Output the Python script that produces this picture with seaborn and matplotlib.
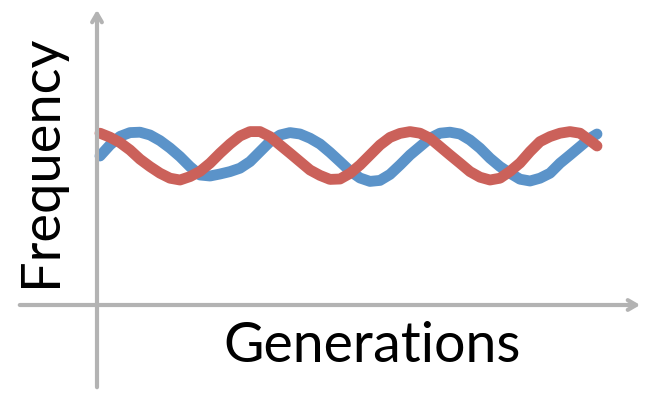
import pandas as pd
import numpy as np
import matplotlib.pyplot as plt
import seaborn as sns

# values (generation, frequency)
gens = list(range(50)) + [49.7]
blue_freq = [0.745, 0.800, 0.843, 0.862, 0.864, 0.850, 0.822, 0.785, 0.742, 0.692,
             0.650, 0.645, 0.655, 0.667, 0.684, 0.717, 0.767, 0.817, 0.850, 0.862,
             0.855, 0.834, 0.805, 0.763, 0.717, 0.670, 0.635, 0.618, 0.623, 0.653,
             0.700, 0.750, 0.792, 0.834, 0.859, 0.864, 0.855, 0.825, 0.784, 0.734,
             0.692, 0.659, 0.629, 0.620, 0.634, 0.659, 0.709, 0.750, 0.792, 0.834, 0.855]
red_freq = [0.859, 0.839, 0.812, 0.775, 0.729, 0.692, 0.659, 0.634, 0.625, 0.642,
            0.668, 0.709, 0.759, 0.805, 0.845, 0.867, 0.867, 0.842, 0.800, 0.759,
            0.717, 0.675, 0.648, 0.628, 0.630, 0.658, 0.700, 0.750, 0.800, 0.838,
            0.858, 0.867, 0.859, 0.834, 0.792, 0.750, 0.709, 0.667, 0.639, 0.625,
            0.634, 0.668, 0.710, 0.767, 0.817, 0.842, 0.859, 0.867, 0.859, 0.822, 0.795]

df = pd.DataFrame({
    'gen': gens + gens,
    'freq': blue_freq + red_freq,
    'series': ['blue'] * len(gens) + ['red'] * len(gens),
})

sns.set_style('white')
fig = plt.figure(figsize=(6.46, 3.93), dpi=100)
ax = fig.add_axes([0, 0, 1, 1])
sns.lineplot(data=df, x='gen', y='freq', hue='series',
             palette={'blue': '#5b93c9', 'red': '#cb615a'},
             linewidth=7.8, solid_capstyle='round', solid_joinstyle='round',
             legend=False, ax=ax)
ax.set_xlim(-10, 54.6)
ax.set_ylim(-0.44, 1.525)
ax.axis('off')

grey = '#b3b3b3'
ax.annotate('', xy=(-0.3, 1.49), xytext=(-0.3, -0.425),
            arrowprops=dict(arrowstyle='->,head_length=0.6,head_width=0.35', color=grey, lw=3))
ax.annotate('', xy=(54.3, 0), xytext=(-8.3, 0),
            arrowprops=dict(arrowstyle='->,head_length=0.6,head_width=0.35', color=grey, lw=3))

ax.text(-5.9, 0.72, 'Frequency', rotation=90, ha='center', va='center',
        fontsize=39, family='Lato', color='black')
ax.text(27.2, -0.205, 'Generations', ha='center', va='center',
        fontsize=40, family='Lato', color='black')

fig.savefig('out.png', dpi=100)
